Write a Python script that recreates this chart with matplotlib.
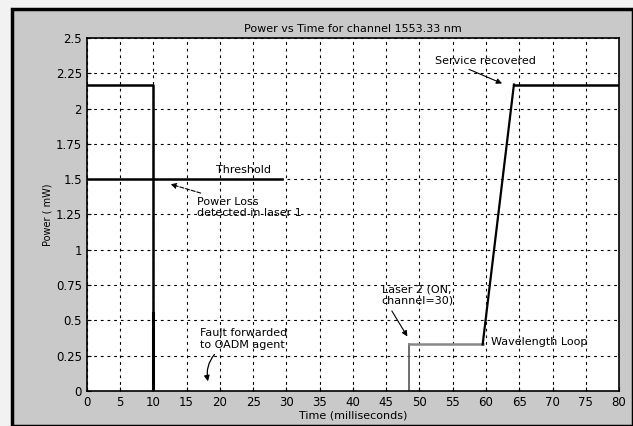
import matplotlib
matplotlib.use("Agg")
import matplotlib.pyplot as plt
from matplotlib.patches import Rectangle

# =====================================================
# DATA
# =====================================================

# laser 1 (fails at 10 ms)
laser1_t = [0, 10, 10]
laser1_p = [2.17, 2.17, 0]

# laser 2 (switched on, wavelength loop, recovery)
laser2_t = [48.5, 48.5, 59.5, 64.2, 80]
laser2_p = [0, 0.33, 0.33, 2.17, 2.17]

# threshold
thresh_t = [0, 29.3]
thresh_p = [1.5, 1.5]

x_ticks = [0, 5, 10, 15, 20, 25, 30, 35, 40, 45, 50, 55, 60, 65, 70, 75, 80]
y_ticks = [0, 0.25, 0.5, 0.75, 1, 1.25, 1.5, 1.75, 2, 2.25, 2.5]
y_labels = ["0", "0.25", "0.5", "0.75", "1", "1.25", "1.5", "1.75", "2", "2.25", "2.5"]

# =====================================================
# FIGURE
# =====================================================

fig = plt.figure(figsize=(6.33, 4.26), dpi=100, facecolor="#f2f2f2")
ax = fig.add_axes([0.137, 0.082, 0.841, 0.829])

# outer frame with gray panel
fig.patches.append(Rectangle((0.019, 0.0), 0.981, 0.979, transform=fig.transFigure,
                             facecolor="#c9c9c9", edgecolor="black", linewidth=2.5,
                             zorder=-1))

ax.plot(laser1_t, laser1_p, color="black", linewidth=1.8)
ax.plot([10, 10], [0, 0.55], color="black", linewidth=2.2)
ax.plot(thresh_t, thresh_p, color="black", linewidth=1.8)
ax.plot(laser2_t[:2], laser2_p[:2], color="#555555", linewidth=1.2)
ax.plot(laser2_t[1:3], laser2_p[1:3], color="#888888", linewidth=1.8)
ax.plot(laser2_t[2:4], laser2_p[2:4], color="black", linewidth=1.6)
ax.plot(laser2_t[3:], laser2_p[3:], color="black", linewidth=1.8)

# =====================================================
# ANNOTATIONS
# =====================================================

fs = 8
ax.text(19.5, 1.53, "Threshold", fontsize=fs, va="bottom")
ax.annotate("Power Loss\ndetected in laser 1", xy=(12.2, 1.47), xytext=(16.6, 1.3),
            fontsize=fs, va="center", ha="left",
            arrowprops=dict(arrowstyle="-|>", color="black", lw=0.8, ls="--"))
ax.annotate("Fault forwarded\nto OADM agent", xy=(18.3, 0.05), xytext=(17, 0.37),
            fontsize=fs, va="center", ha="left",
            arrowprops=dict(arrowstyle="-|>", color="black", lw=0.9,
                            connectionstyle="arc3,rad=0.3", relpos=(0.22, 0.0)))
ax.annotate("Laser 2 (ON,\nchannel=30)", xy=(48.4, 0.37), xytext=(44.3, 0.68),
            fontsize=fs, va="center", ha="left",
            arrowprops=dict(arrowstyle="-|>", color="black", lw=0.8,
                            relpos=(0.1, 0.0)))
ax.text(60.8, 0.35, "Wavelength Loop", fontsize=fs, va="center")
ax.annotate("Service recovered", xy=(62.8, 2.17), xytext=(52.3, 2.34),
            fontsize=fs, va="center", ha="left",
            arrowprops=dict(arrowstyle="-|>", color="black", lw=0.8,
                            relpos=(0.25, 0.0)))

# =====================================================
# AXES STYLE
# =====================================================

ax.set_xlim(0, 80)
ax.set_ylim(0, 2.5)
ax.set_xticks(x_ticks)
ax.set_yticks(y_ticks)
ax.set_yticklabels(y_labels)
ax.tick_params(labelsize=8.5, direction="in", length=3)
ax.grid(True, color="black", linestyle=(0, (2.5, 3.5)), linewidth=0.8)
for s in ax.spines.values():
    s.set_linewidth(1.2)

ax.set_title("Power vs Time for channel 1553.33 nm", fontsize=8, pad=4)
ax.set_xlabel("Time (milliseconds)", fontsize=8, labelpad=1)
ax.set_ylabel("Power ( mW)", fontsize=7, labelpad=2)

fig.savefig("out.png", dpi=100, facecolor=fig.get_facecolor())
